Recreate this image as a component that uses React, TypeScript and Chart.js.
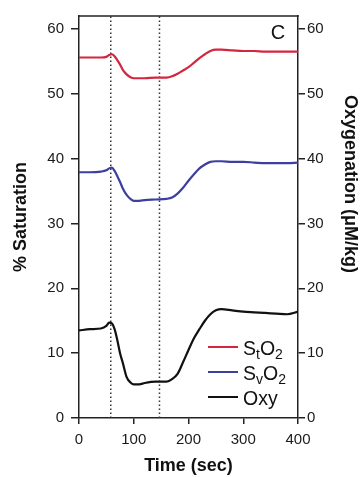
import React, { useEffect, useRef } from "react";
import { Chart, registerables } from "chart.js";

Chart.register(...registerables);

// ---- data ----
const timeSec = [0, 20, 40, 50, 55, 60, 65, 70, 75, 80, 87, 95, 100, 110, 120, 140, 160, 170, 180, 190, 200, 210, 220, 230, 240, 250, 260, 280, 300, 320, 340, 360, 380, 400];
const stO2 = [55.6, 55.6, 55.6, 55.7, 56.0, 56.1, 55.8, 55.2, 54.5, 53.7, 53.0, 52.5, 52.4, 52.4, 52.4, 52.5, 52.5, 52.7, 53.1, 53.6, 54.1, 54.8, 55.5, 56.1, 56.6, 56.8, 56.8, 56.7, 56.6, 56.6, 56.5, 56.5, 56.5, 56.5];
const svO2 = [37.9, 37.9, 38.0, 38.2, 38.5, 38.6, 38.1, 37.3, 36.4, 35.4, 34.4, 33.7, 33.5, 33.5, 33.6, 33.7, 33.8, 34.0, 34.6, 35.5, 36.6, 37.6, 38.5, 39.1, 39.5, 39.6, 39.6, 39.5, 39.5, 39.4, 39.3, 39.3, 39.3, 39.4];
const oxy = [13.5, 13.7, 13.8, 14.2, 14.7, 14.6, 13.7, 12.0, 10.0, 8.5, 6.3, 5.4, 5.2, 5.2, 5.4, 5.6, 5.6, 6.0, 6.8, 8.6, 10.5, 12.3, 13.7, 15.0, 16.0, 16.6, 16.8, 16.6, 16.4, 16.3, 16.2, 16.1, 16.0, 16.4];
const markerTimes = [58, 147];
const xTicks = [0, 100, 200, 300, 400];
const yTicks = [0, 10, 20, 30, 40, 50, 60];
const xRange = [0, 400];
const yRange = [0, 62];
const legendLabels = ["S_tO_2", "S_vO_2", "Oxy"];
const seriesColors = ["#d3263f", "#3c3f9e", "#111111"];
const panelLabel = "C";
const xTitle = "Time (sec)";
const yTitle = "% Saturation";
const y2Title = "Oxygenation (μM/kg)";

const FONT = "'Liberation Sans', Arial, Helvetica, sans-serif";
const AXIS = "#222222";

const decorPlugin = {
  id: "decor",
  afterDraw(chart: any) {
    const { ctx, chartArea } = chart;
    const { left, right, top, bottom } = chartArea;
    ctx.save();
    // top frame line
    ctx.strokeStyle = AXIS;
    ctx.lineWidth = 1.5;
    ctx.beginPath();
    ctx.moveTo(left - 0.75, top);
    ctx.lineTo(right + 0.75, top);
    ctx.stroke();

    // panel label
    ctx.fillStyle = "#111";
    ctx.font = `20px ${FONT}`;
    ctx.textAlign = "center";
    ctx.textBaseline = "middle";
    ctx.fillText(panelLabel, right - 20, top + 17);

    // right axis title
    ctx.save();
    ctx.translate(350, 184);
    ctx.rotate(Math.PI / 2);
    ctx.font = `bold 18px ${FONT}`;
    ctx.textAlign = "center";
    ctx.textBaseline = "middle";
    ctx.fillText(y2Title, 0, 0);
    ctx.restore();

    // legend with subscripts
    const rowYs = [bottom - 71, bottom - 46, bottom - 21];
    legendLabels.forEach((lab, i) => {
      const y = rowYs[i];
      ctx.strokeStyle = seriesColors[i];
      ctx.lineWidth = 2;
      ctx.beginPath();
      ctx.moveTo(left + 129, y);
      ctx.lineTo(left + 159, y);
      ctx.stroke();
      let x = left + 164;
      ctx.fillStyle = "#111";
      ctx.textAlign = "left";
      ctx.textBaseline = "alphabetic";
      const base = y + 8;
      let k = 0;
      while (k < lab.length) {
        const sub = lab[k] === "_";
        const ch = sub ? lab[k + 1] : lab[k];
        k += sub ? 2 : 1;
        ctx.font = sub ? `14px ${FONT}` : `19.5px ${FONT}`;
        ctx.fillText(ch, x, sub ? base + 4 : base);
        x += ctx.measureText(ch).width;
      }
    });
    ctx.restore();
  },
};

export default function App() {
  const ref = useRef<HTMLCanvasElement | null>(null);

  useEffect(() => {
    if (!ref.current) return;
    const series = [stO2, svO2, oxy].map((vals, i) => ({
      label: legendLabels[i],
      data: timeSec.map((t, j) => ({ x: t, y: vals[j] })),
      borderColor: seriesColors[i],
      borderWidth: 2.2,
      pointRadius: 0,
      cubicInterpolationMode: "monotone" as const,
      fill: false,
      order: 0,
      yAxisID: "y",
    }));
    const markers = markerTimes.map((m) => ({
      label: "marker",
      data: [
        { x: m, y: yRange[0] },
        { x: m, y: yRange[1] },
      ],
      borderColor: "#333",
      borderWidth: 1.5,
      borderDash: [1.5, 2.5],
      pointRadius: 0,
      fill: false,
      order: 10,
      yAxisID: "y",
    }));

    const tickFont = { family: FONT, size: 15 };
    const chart = new Chart(ref.current, {
      type: "line",
      data: { datasets: [...series, ...markers] as any },
      options: {
        animation: false,
        responsive: false,
        devicePixelRatio: 1,
        layout: { padding: { top: 14, left: 0, right: 0, bottom: 0 } },
        plugins: { legend: { display: false }, tooltip: { enabled: false } },
        scales: {
          x: {
            type: "linear",
            min: xRange[0],
            max: xRange[1],
            afterBuildTicks: (s: any) => {
              s.ticks = xTicks.map((v) => ({ value: v }));
            },
            afterFit: (s: any) => {
              s.height = 59;
            },
            ticks: { font: tickFont, color: "#1a1a1a", padding: 7, maxRotation: 0, autoSkip: false },
            grid: { drawOnChartArea: false, drawTicks: true, tickLength: 6, color: AXIS, lineWidth: 1.5 },
            border: { color: AXIS, width: 1.5 },
            title: {
              display: true,
              text: xTitle,
              color: "#111",
              font: { family: FONT, size: 18, weight: "bold" },
              padding: { top: 0, bottom: 0 },
            },
          },
          y: {
            type: "linear",
            position: "left",
            min: yRange[0],
            max: yRange[1],
            afterBuildTicks: (s: any) => {
              s.ticks = yTicks.map((v) => ({ value: v }));
            },
            afterFit: (s: any) => {
              s.width = 79;
            },
            ticks: { font: tickFont, color: "#1a1a1a", padding: 7 },
            grid: { drawOnChartArea: false, drawTicks: true, tickLength: 8, color: AXIS, lineWidth: 1.5 },
            border: { color: AXIS, width: 1.5 },
            title: {
              display: true,
              text: yTitle,
              color: "#111",
              font: { family: FONT, size: 18, weight: "bold" },
              padding: { top: 10, bottom: 0 },
            },
          },
          y2: {
            type: "linear",
            position: "right",
            min: yRange[0],
            max: yRange[1],
            afterBuildTicks: (s: any) => {
              s.ticks = yTicks.map((v) => ({ value: v }));
            },
            afterFit: (s: any) => {
              s.width = 63;
            },
            ticks: { font: tickFont, color: "#1a1a1a", padding: 2 },
            grid: { drawOnChartArea: false, drawTicks: true, tickLength: 7, color: AXIS, lineWidth: 1.5 },
            border: { color: AXIS, width: 1.5 },
            title: { display: false },
          },
        },
      },
      plugins: [decorPlugin],
    });
    return () => chart.destroy();
  }, []);

  return (
    <div style={{ position: "fixed", left: 0, top: 0, width: 361, height: 477, background: "#fff" }}>
      <canvas ref={ref} width={361} height={477} />
    </div>
  );
}
